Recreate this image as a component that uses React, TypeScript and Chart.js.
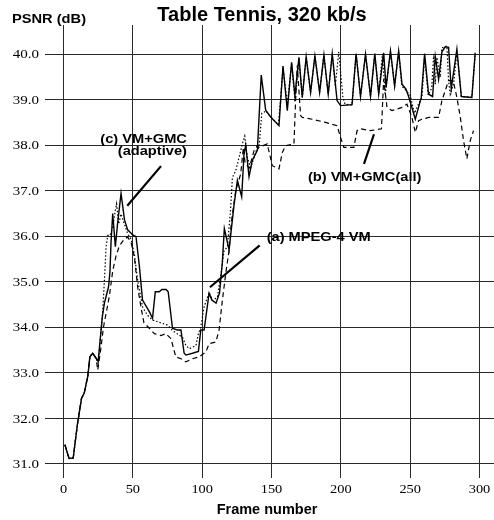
import React, { useEffect, useRef } from "react";
import { Chart, registerables } from "chart.js";

Chart.register(...registerables);

const xTicks = [0, 50, 100, 150, 200, 250, 300];
const xTickLabels = ["0", "50", "100", "150", "200", "250", "300"];
const yTicks = [31, 32, 33, 34, 35, 36, 37, 38, 39, 40];
const yTickLabels = ["31.0", "32.0", "33.0", "34.0", "35.0", "36.0", "37.0", "38.0", "39.0", "40.0"];

const chartTitle = "Table Tennis, 320 kb/s";
const yAxisTitle = "PSNR (dB)";
const xAxisTitle = "Frame number";

// (c) VM+GMC (adaptive) — solid
const adaptiveGmc: [number, number][] = [
  [1, 31.42], [4, 31.12], [7, 31.13], [10, 31.86], [13, 32.44], [15, 32.56], [17.5, 32.92], [19, 33.35],
  [21, 33.43], [23.5, 33.32], [25, 33.25], [28, 34.23], [29.5, 34.53], [32.5, 34.89], [33.5, 35.22],
  [34.3, 35.88], [35.5, 36.5], [37.4, 35.77], [39, 36.28], [41.5, 36.94], [44, 36.36], [46.3, 36.14],
  [50, 36.03], [52.3, 35.99], [54.7, 35.35], [57, 34.6], [62, 34.34], [64.2, 34.2], [66.2, 34.78],
  [69, 34.78], [71, 34.83], [74, 34.83], [75.5, 34.78], [78.6, 33.98], [82.2, 33.94], [84.7, 33.94],
  [87, 33.43], [88.3, 33.39], [93, 33.43], [97.3, 33.47], [99, 33.94], [101.4, 33.94], [105, 34.75],
  [107, 34.6], [110, 34.53], [112.5, 34.75], [114.5, 35.4], [116, 36.17], [119.4, 35.7], [123, 36.69],
  [125.4, 37.23], [128.5, 36.87], [130.2, 37.82], [131.4, 38.0], [133.8, 37.31], [136.2, 37.67],
  [139.8, 37.89], [142.6, 39.54], [145.8, 38.77], [149.4, 38.62], [155.4, 38.43], [158.3, 39.74],
  [161.4, 38.76], [164.5, 39.82], [166.9, 39.09], [169.8, 39.93], [172.2, 39.05], [175, 39.94],
  [178.2, 39.16], [181.3, 39.96], [184.7, 39.16], [187.8, 39.98], [190.9, 39.12], [193.8, 40.01],
  [197.3, 38.98], [199.8, 38.87], [208.1, 38.89], [211, 40.01], [214.2, 39.07], [217.8, 40.0],
  [221.4, 39.07], [224.5, 40.01], [227.3, 39.12], [230.9, 40.03], [232.6, 39.27], [235.8, 40.07],
  [238.8, 39.3], [241.7, 40.07], [244.1, 39.34], [247, 39.23], [248.9, 39.07], [253.7, 38.57],
  [258, 39.05], [260.4, 40.01], [263.3, 39.12], [266.2, 39.07], [268.1, 39.95], [270.5, 39.45],
  [272.9, 40.05], [275.3, 40.16], [277.7, 40.15], [279.6, 39.23], [283.7, 40.11], [286.9, 39.07],
  [294.5, 39.05], [296.9, 40.03],
];

// (a) MPEG-4 VM — dotted
const mpeg4Vm: [number, number][] = [
  [1, 31.42], [4, 31.12], [7, 31.13], [10, 31.86], [13, 32.44], [15, 32.56], [17.5, 32.92], [19, 33.35],
  [21, 33.43], [23.5, 33.32], [25, 33.2], [28.3, 34.36], [29.5, 35.03], [30.7, 35.76], [31.9, 36.02],
  [33.6, 36.02], [35.5, 36.2], [37.4, 36.57], [38.3, 36.71], [39.8, 36.27], [41.5, 36.49], [43.9, 36.27],
  [46.3, 36.05], [48.7, 35.94], [51.1, 35.61], [53.5, 35.03], [57.1, 34.44], [60.7, 34.26], [64.2, 34.16],
  [70, 34.1], [75, 34.05], [78.6, 33.93], [85.8, 33.78], [88.3, 33.6], [90.8, 33.53], [95.5, 33.6],
  [97.3, 33.86], [99, 34.0], [101.4, 34.45], [103.8, 34.66], [105, 34.77], [107.4, 34.59], [111, 34.66],
  [113.5, 35.17], [115.8, 35.69], [118.2, 35.76], [120.6, 36.64], [121.8, 37.29], [124.2, 37.44],
  [126.6, 37.73], [129, 38.03], [130.7, 38.2], [132.6, 37.73], [135, 37.51], [137.4, 37.73], [139.1, 37.88],
  [141, 37.95], [143, 38.7], [146, 38.75], [150, 38.6], [155, 38.45], [158.3, 39.7], [161.4, 38.9],
  [164.5, 39.8], [167, 38.95], [169.8, 39.9], [172.2, 39.05], [175, 39.94], [178.2, 39.16], [181.3, 39.96],
  [184.7, 39.16], [187.8, 39.98], [190.9, 39.12], [193.8, 40.0], [196, 39.3], [198.5, 40.05], [201.5, 39.05],
  [203, 38.9], [208, 38.88], [211, 40.0], [214.2, 39.07], [217.8, 40.0], [221.4, 39.07], [224.5, 40.01],
  [227.3, 39.12], [230, 40.0], [232, 39.1], [235.8, 40.05], [238.8, 39.3], [241.7, 40.05], [244, 39.3],
  [247, 39.2], [250, 39.1], [253, 38.7], [256, 38.9], [258.5, 39.05], [260.4, 39.95], [263, 39.1],
  [265.5, 39.25], [267, 40.0], [268.1, 39.34], [269.3, 39.93], [271.7, 39.49], [272.9, 40.14],
  [276.5, 40.18], [277.7, 39.42], [278.9, 39.12], [281.3, 39.34], [283.7, 40.05], [286.9, 39.07],
  [294.5, 39.05], [296.9, 40.0],
];

// (b) VM+GMC(all) — dashed
const gmcAll: [number, number][] = [
  [1, 31.42], [4, 31.12], [7, 31.13], [10, 31.86], [13, 32.44], [15, 32.56], [17.5, 32.92], [19, 33.35],
  [21, 33.43], [23.5, 33.32], [24.7, 33.06], [27.1, 33.57], [28.8, 34.0], [30.7, 34.3], [33.1, 34.69],
  [35.5, 35.24], [37.9, 35.57], [40.3, 35.79], [43.9, 35.94], [46.3, 35.98], [48.7, 35.87], [51.1, 35.54],
  [53.5, 34.88], [55.9, 34.44], [58, 34.1], [61.9, 33.98], [65.5, 33.86], [70.3, 33.82], [73.9, 33.86],
  [77.5, 33.75], [81, 33.35], [84.7, 33.31], [88.3, 33.24], [93, 33.31], [97.8, 33.35], [102.7, 33.46],
  [105, 33.64], [109.9, 33.68], [112.2, 33.94], [114.6, 34.6], [117, 35.18], [119.4, 35.69], [121, 36.3],
  [124.2, 37.0], [127.8, 37.37], [129.7, 37.95], [131, 37.6], [134, 37.5], [137.4, 37.88], [139.8, 37.99],
  [141, 37.95], [146.9, 38.03], [150.6, 37.55], [155.4, 37.48], [157.8, 37.84], [160.2, 37.99],
  [166.2, 38.03], [167.4, 39.0], [168.6, 39.75], [171, 38.65], [172.2, 38.61], [179.4, 38.57], [189, 38.5],
  [197.3, 38.43], [199.8, 38.17], [202.2, 37.95], [209.4, 37.95], [211.7, 38.32], [214.2, 38.36],
  [221.4, 38.32], [229.3, 38.36], [230.9, 39.45], [233.3, 38.83], [236.9, 38.76], [244.1, 38.83],
  [247.7, 38.9], [251.3, 38.61], [253.7, 38.28], [256.1, 38.54], [258.5, 38.57], [263.3, 38.61],
  [270.5, 38.61], [272.9, 38.98], [275.3, 39.2], [277.7, 39.42], [281, 39.42], [283.7, 39.05],
  [286.2, 38.61], [288.5, 38.1], [290.9, 37.7], [293.3, 38.1], [295.7, 38.32],
];

// Annotation labels anchored in data space: [frame, psnr]
const labelC1 = { text: "(c) VM+GMC", at: [89, 38.11] as [number, number] };
const labelC2 = { text: "(adaptive)", at: [89, 37.85] as [number, number] };
const pointerC: [number, number][] = [[70.3, 37.54], [46.0, 36.67]];
const labelA = { text: "(a) MPEG-4 VM", at: [146.5, 35.96] as [number, number] };
const pointerA: [number, number][] = [[141.5, 35.8], [105.6, 34.88]];
const labelB = { text: "(b) VM+GMC(all)", at: [176.3, 37.28] as [number, number] };
const pointerB: [number, number][] = [[223.9, 38.24], [216.7, 37.59]];

const toXY = (pts: [number, number][]) => pts.map(([x, y]) => ({ x, y }));

export default function App() {
  const ref = useRef<HTMLCanvasElement | null>(null);

  useEffect(() => {
    document.body.style.margin = "0";
    const canvas = ref.current;
    if (!canvas) return;

    const textPlugin = {
      id: "figureText",
      afterDraw(chart: any) {
        const ctx = chart.ctx as CanvasRenderingContext2D;
        const xs = chart.scales.x;
        const ys = chart.scales.y;
        const area = chart.chartArea;
        const draw = (
          text: string, x: number, y: number, font: string,
          align: CanvasTextAlign, baseline: CanvasTextBaseline, sx: number
        ) => {
          ctx.save();
          ctx.translate(x, y);
          ctx.scale(sx, 1);
          ctx.font = font;
          ctx.textAlign = align;
          ctx.textBaseline = baseline;
          ctx.fillStyle = "#000";
          ctx.fillText(text, 0, 0);
          ctx.restore();
        };
        const serif = '"Liberation Serif", "DejaVu Serif", serif';
        const sans = '"Liberation Sans", Arial, sans-serif';

        yTicks.forEach((v, i) => {
          draw(yTickLabels[i], area.left - 6, ys.getPixelForValue(v) + 1, `12px ${serif}`, "right", "middle", 1.25);
        });
        xTicks.forEach((v, i) => {
          draw(xTickLabels[i], xs.getPixelForValue(v), area.bottom + 12, `12.5px ${serif}`, "center", "middle", 1.15);
        });

        draw(chartTitle, 262, 21, `bold 20px ${sans}`, "center", "alphabetic", 1);
        draw(yAxisTitle, 12, 23, `bold 12px ${sans}`, "left", "alphabetic", 1.22);
        draw(xAxisTitle, 267, 514, `bold 14.5px ${sans}`, "center", "alphabetic", 1);

        const px = (p: [number, number]) => [xs.getPixelForValue(p[0]), ys.getPixelForValue(p[1])];
        const ann = `bold 12px ${sans}`;
        let p = px(labelC1.at);
        draw(labelC1.text, p[0], p[1], ann, "right", "middle", 1.22);
        p = px(labelC2.at);
        draw(labelC2.text, p[0], p[1], ann, "right", "middle", 1.22);
        p = px(labelA.at);
        draw(labelA.text, p[0], p[1], ann, "left", "middle", 1.22);
        p = px(labelB.at);
        draw(labelB.text, p[0], p[1], ann, "left", "middle", 1.22);

        ctx.save();
        ctx.strokeStyle = "#000";
        ctx.lineWidth = 2.2;
        [pointerC, pointerA, pointerB].forEach((seg) => {
          const a = px(seg[0]);
          const b = px(seg[1]);
          ctx.beginPath();
          ctx.moveTo(a[0], a[1]);
          ctx.lineTo(b[0], b[1]);
          ctx.stroke();
        });
        ctx.restore();
      },
    };

    const chart = new Chart(canvas, {
      type: "line",
      data: {
        datasets: [
          {
            label: "(a) MPEG-4 VM",
            data: toXY(mpeg4Vm),
            borderColor: "#000",
            borderWidth: 1.2,
            borderDash: [1.5, 2],
            pointRadius: 0,
            tension: 0,
          },
          {
            label: "(b) VM+GMC(all)",
            data: toXY(gmcAll),
            borderColor: "#000",
            borderWidth: 1.2,
            borderDash: [5, 3.5],
            pointRadius: 0,
            tension: 0,
          },
          {
            label: "(c) VM+GMC (adaptive)",
            data: toXY(adaptiveGmc),
            borderColor: "#000",
            borderWidth: 1.4,
            pointRadius: 0,
            tension: 0,
          },
        ],
      },
      options: {
        responsive: false,
        animation: false,
        devicePixelRatio: 1,
        layout: { padding: { top: 25, left: 0, right: 0, bottom: 0 } },
        plugins: {
          legend: { display: false },
          title: { display: false },
          tooltip: { enabled: false },
        },
        scales: {
          x: {
            type: "linear",
            min: -13.34,
            max: 310.46,
            afterBuildTicks: (s: any) => {
              s.ticks = xTicks.map((v) => ({ value: v }));
            },
            afterFit: (s: any) => {
              s.height = 42;
            },
            ticks: { display: false },
            grid: { color: "#2a2a2a", lineWidth: 1, drawTicks: false, tickLength: 0 },
            border: { display: false },
          },
          y: {
            type: "linear",
            min: 30.69,
            max: 40.64,
            afterBuildTicks: (s: any) => {
              s.ticks = yTicks.map((v) => ({ value: v }));
            },
            afterFit: (s: any) => {
              s.width = 45;
            },
            ticks: { display: false },
            grid: { color: "#2a2a2a", lineWidth: 1, drawTicks: false, tickLength: 0 },
            border: { display: false },
          },
        },
      },
      plugins: [textPlugin],
    });

    return () => chart.destroy();
  }, []);

  return (
    <canvas
      ref={ref}
      width={494}
      height={520}
      style={{ display: "block", width: 494, height: 520 }}
    />
  );
}
